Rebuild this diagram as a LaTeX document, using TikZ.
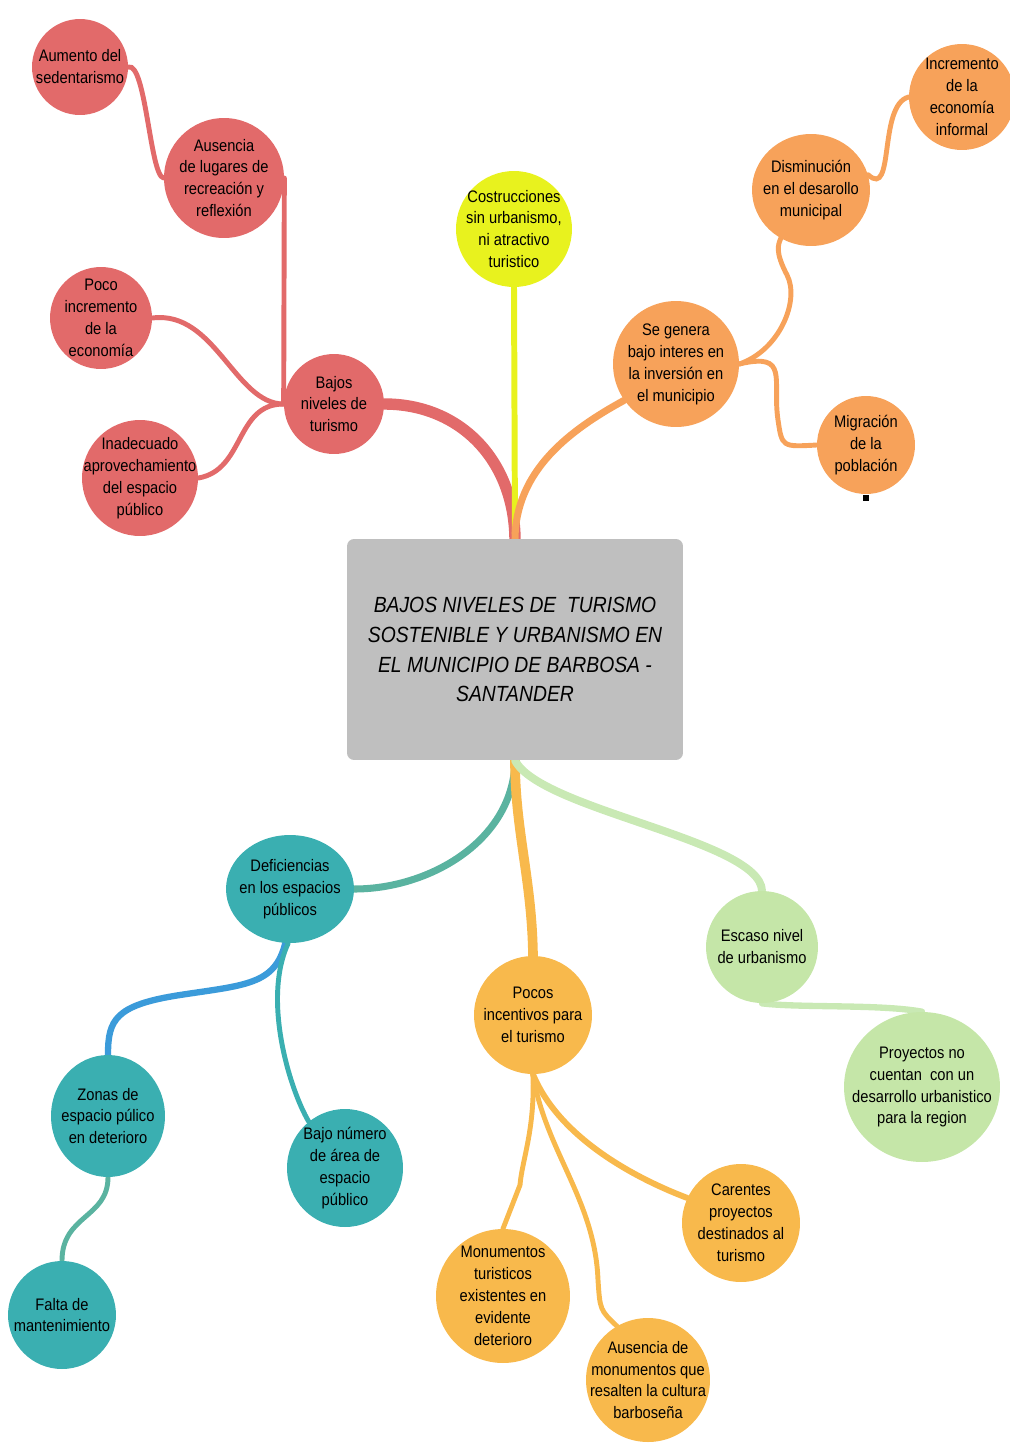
\documentclass[tikz,border=0pt]{standalone}
\usepackage{fontspec}
\setmainfont{Liberation Sans}[FakeStretch=0.88]
\usepackage{tikz}
\usetikzlibrary{positioning,shapes.geometric,backgrounds}
\definecolor{redfill}{HTML}{E26A6A}
\definecolor{yellowfill}{HTML}{E8F21E}
\definecolor{orangefill}{HTML}{F7A25A}
\definecolor{tealfill}{HTML}{3AAFB1}
\definecolor{goldfill}{HTML}{F8B94C}
\definecolor{greenfill}{HTML}{C5E6A8}
\definecolor{grayfill}{HTML}{BFBFBF}
\definecolor{tealline}{HTML}{5AB3A0}
\definecolor{blueline}{HTML}{3B9BDA}
\definecolor{greenline}{HTML}{C9E9B4}

\begin{document}
\begin{tikzpicture}[x=0.02cm,y=-0.02cm,
  idea/.style={circle,inner sep=-14pt,align=center,text=black,
    font=\fontsize{9.5}{12.5}\selectfont},
  oval/.style={idea,ellipse},
  branch/.style={line cap=round,line width=2.8pt}]
\useasboundingbox (0,0) rectangle (1010,1444);

\node[fill=grayfill,rounded corners=4pt,minimum width=6.72cm,minimum height=4.42cm,
  align=center,font=\fontsize{12.5}{17}\selectfont\itshape,text=black] (central) at (515,649.5)
  {BAJOS NIVELES DE\ \ TURISMO\\SOSTENIBLE Y URBANISMO EN\\EL MUNICIPIO DE BARBOSA -\\SANTANDER};

\node[idea,fill=redfill,minimum size=1.92cm] (aumento) at (80,67) {Aumento del\\sedentarismo};
\node[idea,fill=redfill,minimum size=2.4cm] (ausencia) at (224,178) {Ausencia\\de lugares de\\recreación y\\reflexión};
\node[idea,fill=redfill,minimum size=2.04cm] (poco) at (101,318) {Poco\\incremento\\de la\\economía};
\node[idea,fill=redfill,minimum size=2.32cm] (inadecuado) at (140,478) {Inadecuado\\aprovechamiento\\del espacio\\público};
\node[idea,fill=redfill,minimum size=2.0cm] (bajos) at (334,404) {Bajos\\niveles de\\turismo};

\node[idea,fill=yellowfill,minimum size=2.32cm] (costrucciones) at (514,229) {Costrucciones\\sin urbanismo,\\ni atractivo\\turistico};

\node[idea,fill=orangefill,minimum size=2.52cm] (segenera) at (676,364) {Se genera\\bajo interes en\\la inversión en\\el municipio};
\node[oval,fill=orangefill,minimum width=2.36cm,minimum height=2.24cm] (disminucion) at (811,190) {Disminución\\en el desarollo\\municipal};
\node[idea,fill=orangefill,minimum size=2.12cm] (incremento) at (962,97) {Incremento\\de la\\economía\\informal};
\node[idea,fill=orangefill,minimum size=1.96cm] (migracion) at (866,445) {Migración\\de la\\población};
\node[fill=black,inner sep=0pt,minimum size=3pt] (punto) at (866,498) {};

\node[oval,fill=tealfill,minimum width=2.56cm,minimum height=2.16cm] (deficiencias) at (290,889) {Deficiencias\\en los espacios\\públicos};
\node[oval,fill=tealfill,minimum width=2.28cm,minimum height=2.44cm] (zonas) at (108,1116) {Zonas de\\espacio púlico\\en deterioro};
\node[oval,fill=tealfill,minimum width=2.32cm,minimum height=2.36cm] (bajonum) at (345,1168) {Bajo número\\de área de\\espacio\\público};
\node[idea,fill=tealfill,minimum size=2.16cm] (falta) at (62,1315) {Falta de\\mantenimiento};

\node[idea,fill=goldfill,minimum size=2.36cm] (pocos) at (533,1015) {Pocos\\incentivos para\\el turismo};
\node[idea,fill=goldfill,minimum size=2.36cm] (carentes) at (741,1223) {Carentes\\proyectos\\destinados al\\turismo};
\node[idea,fill=goldfill,minimum size=2.68cm] (monumentos) at (503,1296) {Monumentos\\turisticos\\existentes en\\evidente\\deterioro};
\node[idea,fill=goldfill,minimum size=2.48cm] (ausmon) at (648,1380) {Ausencia de\\monumentos que\\resalten la cultura\\barboseña};

\node[idea,fill=greenfill,minimum size=2.24cm] (escaso) at (762,947) {Escaso nivel\\de urbanismo};
\node[oval,fill=greenfill,minimum width=3.12cm,minimum height=3.0cm] (proyectos) at (922,1087) {Proyectos no\\cuentan\ \ con un\\desarrollo urbanistico\\para la region};

\begin{pgfonlayer}{background}
\draw[branch,redfill,line width=6.5pt] (central.north) .. controls (514,460) and (460,404) .. (bajos.east);
\draw[branch,redfill] (bajos.west) -- (ausencia.east);
\draw[branch,redfill] (ausencia.west) .. controls (150,176) and (146,62) .. (aumento.east);
\draw[branch,redfill] (poco.east) .. controls (215,310) and (235,404) .. (bajos.west);
\draw[branch,redfill] (inadecuado.east) .. controls (245,470) and (235,404) .. (bajos.west);

\draw[branch,yellowfill,line width=3.4pt] (costrucciones.south) -- (central.north);

\draw[branch,orangefill,line width=4pt] (central.north) .. controls (516,470) and (570,430) .. (segenera.215);
\draw[branch,orangefill] (segenera.east) .. controls (780,350) and (800,300) .. (787,275)
  .. controls (775,252) and (778,245) .. (disminucion.238);
\draw[branch,orangefill] (segenera.east) .. controls (790,352) and (772,380) .. (778,420)
  .. controls (782,447) .. (migracion.west);
\draw[branch,orangefill] (disminucion.15) .. controls (895,200) and (878,105) .. (incremento.west);

\draw[branch,tealline,line width=4pt] (central.south) .. controls (514,840) and (430,889) .. (deficiencias.east);
\draw[branch,goldfill,line width=5.5pt] (central.south) .. controls (515,830) and (532,880) .. (pocos.north);
\draw[branch,greenline,line width=4.5pt] (central.south) .. controls (540,810) and (760,840) .. (escaso.north);

\draw[branch,blueline,line width=3.6pt] (deficiencias.265) .. controls (275,985) and (245,985) .. (180,995)
  .. controls (115,1005) and (108,1020) .. (zonas.north);
\draw[branch,tealfill] (deficiencias.268) .. controls (262,1000) and (290,1090) .. (bajonum.128);
\draw[branch,tealline] (zonas.south) .. controls (108,1218) and (62,1215) .. (falta.north);

\draw[branch,greenline,line width=3.6pt] (escaso.south) .. controls (800,1008) and (880,1004) .. (proyectos.north);

\draw[branch,goldfill] (pocos.south) .. controls (535,1130) and (522,1160) .. (520,1185) -- (monumentos.north);
\draw[branch,goldfill] (pocos.south) .. controls (545,1150) and (595,1200) .. (598,1280)
  .. controls (600,1310) .. (ausmon.120);
\draw[branch,goldfill,line width=3.4pt] (pocos.south) .. controls (560,1140) and (640,1180) .. (carentes.155);
\end{pgfonlayer}
\end{tikzpicture}
\end{document}
